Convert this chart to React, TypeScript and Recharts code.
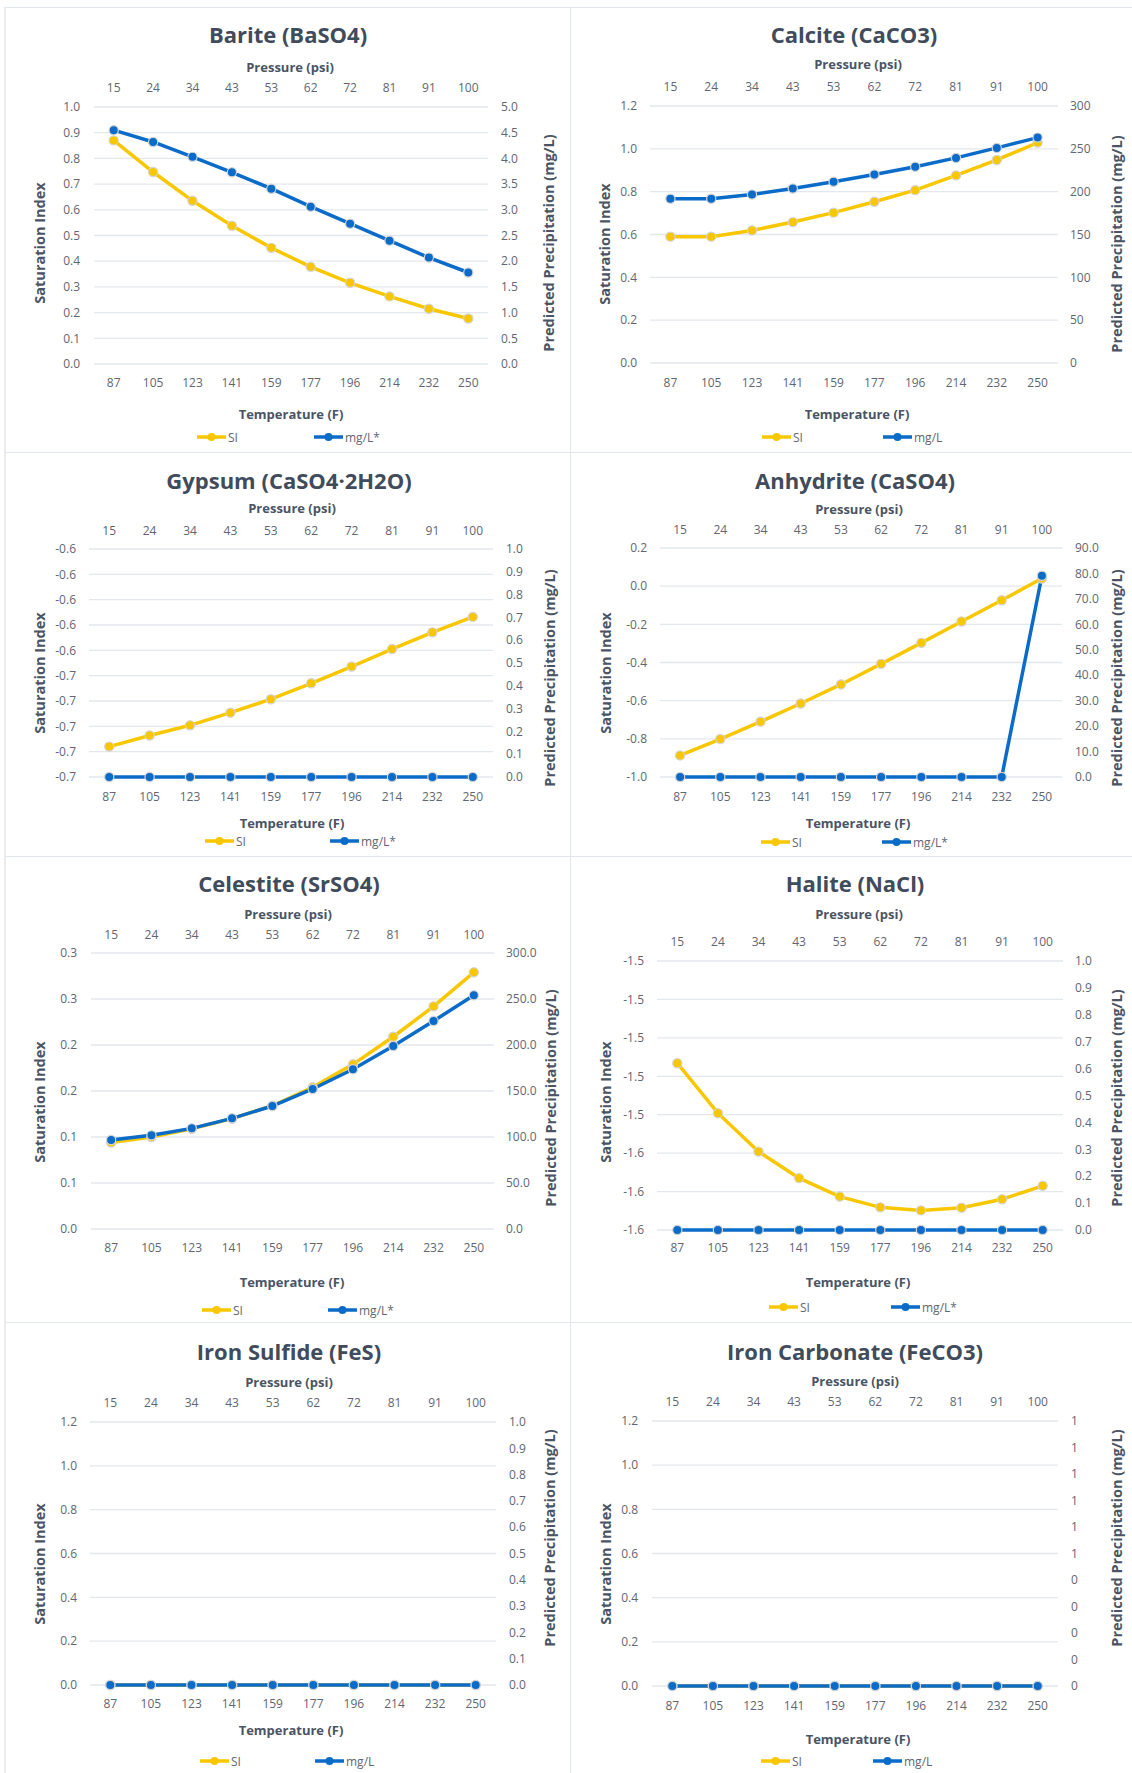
import React from "react";
import { LineChart, Line, XAxis, YAxis, CartesianGrid } from "recharts";

const temperatures = [87, 105, 123, 141, 159, 177, 196, 214, 232, 250];
const pressures = [15, 24, 34, 43, 53, 62, 72, 81, 91, 100];

const bariteSI = [0.87, 0.747, 0.635, 0.538, 0.452, 0.378, 0.316, 0.263, 0.215, 0.177];
const bariteMg = [4.55, 4.32, 4.03, 3.73, 3.41, 3.06, 2.73, 2.4, 2.07, 1.78];

const calciteSI = [0.59, 0.59, 0.619, 0.658, 0.702, 0.753, 0.807, 0.876, 0.948, 1.029];
const calciteMg = [191.7, 191.7, 196.7, 203.7, 211.5, 220.0, 229.0, 239.4, 251.1, 263.1];

const gypsumSI = [-0.678, -0.6736, -0.6696, -0.6646, -0.6593, -0.653, -0.6464, -0.6395, -0.6329, -0.6268];
const gypsumMg = [0, 0, 0, 0, 0, 0, 0, 0, 0, 0];

const anhydriteSI = [-0.887, -0.801, -0.71, -0.615, -0.515, -0.407, -0.297, -0.185, -0.074, 0.04];
const anhydriteMg = [0, 0, 0, 0, 0, 0, 0, 0, 0, 79.1];

const celestiteSI = [0.094, 0.1, 0.109, 0.12, 0.134, 0.154, 0.179, 0.209, 0.242, 0.279];
const celestiteMg = [96.7, 101.8, 109.4, 120.3, 133.7, 152.2, 173.6, 198.9, 226.1, 254.0];

const haliteSI = [-1.5266, -1.5396, -1.5496, -1.5565, -1.5613, -1.5641, -1.5649, -1.5642, -1.562, -1.5585];
const haliteMg = [0, 0, 0, 0, 0, 0, 0, 0, 0, 0];

const ironSulfideSI = [0, 0, 0, 0, 0, 0, 0, 0, 0, 0];
const ironSulfideMg = [0, 0, 0, 0, 0, 0, 0, 0, 0, 0];

const ironCarbonateSI = [0, 0, 0, 0, 0, 0, 0, 0, 0, 0];
const ironCarbonateMg = [0, 0, 0, 0, 0, 0, 0, 0, 0, 0];

// axis tick values
const bariteSiTicks = [0, 0.1, 0.2, 0.3, 0.4, 0.5, 0.6, 0.7, 0.8, 0.9, 1.0];
const bariteMgTicks = [0, 0.5, 1, 1.5, 2, 2.5, 3, 3.5, 4, 4.5, 5];
const calciteSiTicks = [0, 0.2, 0.4, 0.6, 0.8, 1.0, 1.2];
const calciteMgTicks = [0, 50, 100, 150, 200, 250, 300];
const gypsumSiTicks = [-0.69, -0.68, -0.67, -0.66, -0.65, -0.64, -0.63, -0.62, -0.61, -0.6];
const gypsumMgTicks = [0, 0.1, 0.2, 0.3, 0.4, 0.5, 0.6, 0.7, 0.8, 0.9, 1.0];
const anhydriteSiTicks = [-1.0, -0.8, -0.6, -0.4, -0.2, 0, 0.2];
const anhydriteMgTicks = [0, 10, 20, 30, 40, 50, 60, 70, 80, 90];
const celestiteSiTicks = [0, 0.05, 0.1, 0.15, 0.2, 0.25, 0.3];
const celestiteMgTicks = [0, 50, 100, 150, 200, 250, 300];
const haliteSiTicks = [-1.57, -1.56, -1.55, -1.54, -1.53, -1.52, -1.51, -1.5];
const haliteMgTicks = [0, 0.1, 0.2, 0.3, 0.4, 0.5, 0.6, 0.7, 0.8, 0.9, 1.0];
const ironSiTicks = [0, 0.2, 0.4, 0.6, 0.8, 1.0, 1.2];
const ironMgTicks = [0, 0.1, 0.2, 0.3, 0.4, 0.5, 0.6, 0.7, 0.8, 0.9, 1.0];

const YELLOW = "#F8C700";
const BLUE = "#0B6BC9";
const FONT = "'Open Sans', 'Noto Sans', sans-serif";
const TICK_FS = 12;

// excel style rounding (half away from zero)
const roundAway = (v: number, d: number) => {
  const p = Math.pow(10, d);
  return (Math.sign(v) * Math.round(Math.abs(v) * p + 1e-9)) / p;
};
const fmt1 = (v: number) => roundAway(v, 1).toFixed(1);
const fmt0 = (v: number) => roundAway(v, 0).toFixed(0);

// box: x,y,w,h  plot: left,right,top,bottom  ticks: leftLabelRight,rightLabelLeft,topLabelY,bottomLabelY
const panels = [
  {
    title: "Barite (BaSO4)", si: bariteSI, mg: bariteMg, siTicks: bariteSiTicks, mgTicks: bariteMgTicks,
    siFmt: fmt1, mgFmt: fmt1, mgName: "mg/L*",
    box: [5, 7, 565, 445], plot: [94, 488, 107, 364], ticks: [80, 501, 88, 383],
    titlePos: [288, 34], pres: [290, 67], temp: [291, 414], leftT: [40, 243], rightT: [549, 243],
    legend: [437, 197, 314],
  },
  {
    title: "Calcite (CaCO3)", si: calciteSI, mg: calciteMg, siTicks: calciteSiTicks, mgTicks: calciteMgTicks,
    siFmt: fmt1, mgFmt: fmt0, mgName: "mg/L",
    box: [570, 7, 562, 445], plot: [650, 1058, 106, 363], ticks: [637, 1070, 87, 383],
    titlePos: [854, 34], pres: [858, 64], temp: [857, 414], leftT: [605, 244], rightT: [1117, 244],
    legend: [437, 762, 883],
  },
  {
    title: "Gypsum (CaSO4·2H2O)", si: gypsumSI, mg: gypsumMg, siTicks: gypsumSiTicks, mgTicks: gypsumMgTicks,
    siFmt: fmt1, mgFmt: fmt1, mgName: "mg/L*",
    box: [5, 452, 565, 404], plot: [89, 493, 549, 777], ticks: [76, 506, 531, 797],
    titlePos: [289, 480], pres: [292, 508], temp: [292, 823], leftT: [40, 673], rightT: [550, 678],
    legend: [841, 205, 330],
  },
  {
    title: "Anhydrite (CaSO4)", si: anhydriteSI, mg: anhydriteMg, siTicks: anhydriteSiTicks, mgTicks: anhydriteMgTicks,
    siFmt: fmt1, mgFmt: fmt1, mgName: "mg/L*",
    box: [570, 452, 562, 404], plot: [660, 1062, 548, 777], ticks: [647, 1075, 530, 797],
    titlePos: [855, 480], pres: [859, 509], temp: [858, 823], leftT: [606, 673], rightT: [1117, 678],
    legend: [842, 761, 882],
  },
  {
    title: "Celestite (SrSO4)", si: celestiteSI, mg: celestiteMg, siTicks: celestiteSiTicks, mgTicks: celestiteMgTicks,
    siFmt: fmt1, mgFmt: fmt1, mgName: "mg/L*",
    box: [5, 856, 565, 466], plot: [91, 494, 953, 1229], ticks: [77, 506, 935, 1248],
    titlePos: [289, 883], pres: [288, 914], temp: [292, 1282], leftT: [40, 1102], rightT: [551, 1098],
    legend: [1310, 202, 328],
  },
  {
    title: "Halite (NaCl)", si: haliteSI, mg: haliteMg, siTicks: haliteSiTicks, mgTicks: haliteMgTicks,
    siFmt: fmt1, mgFmt: fmt1, mgName: "mg/L*",
    box: [570, 856, 562, 466], plot: [657, 1063, 961, 1230], ticks: [644, 1075, 942, 1248],
    titlePos: [855, 883], pres: [859, 914], temp: [858, 1282], leftT: [606, 1102], rightT: [1117, 1098],
    legend: [1307, 769, 891],
  },
  {
    title: "Iron Sulfide (FeS)", si: ironSulfideSI, mg: ironSulfideMg, siTicks: ironSiTicks, mgTicks: ironMgTicks,
    siFmt: fmt1, mgFmt: fmt1, mgName: "mg/L",
    box: [5, 1322, 565, 451], plot: [90, 496, 1422, 1685], ticks: [77, 509, 1403, 1704],
    titlePos: [289, 1351], pres: [289, 1382], temp: [291, 1730], leftT: [40, 1564], rightT: [550, 1538],
    legend: [1761, 200, 315],
  },
  {
    title: "Iron Carbonate (FeCO3)", si: ironCarbonateSI, mg: ironCarbonateMg, siTicks: ironSiTicks, mgTicks: ironMgTicks,
    siFmt: fmt1, mgFmt: fmt0, mgName: "mg/L",
    box: [570, 1322, 562, 451], plot: [652, 1058, 1421, 1686], ticks: [638, 1071, 1402, 1706],
    titlePos: [855, 1351], pres: [855, 1381], temp: [858, 1739], leftT: [606, 1564], rightT: [1117, 1538],
    legend: [1761, 761, 873],
  },
];

function Txt({ x, y, size, bold, color, rotate, children }: any) {
  return (
    <div
      style={{
        position: "absolute",
        left: x,
        top: y,
        transform: `translate(-50%, -50%)${rotate ? " rotate(-90deg)" : ""}`,
        fontFamily: FONT,
        fontSize: size,
        fontWeight: bold ? 700 : 400,
        color,
        whiteSpace: "nowrap",
        lineHeight: 1,
      }}
    >
      {children}
    </div>
  );
}

function LegendItem({ x, y, color, label }: any) {
  return (
    <div style={{ position: "absolute", left: x, top: y - 9, height: 18, display: "flex", alignItems: "center" }}>
      <svg width={29} height={18}>
        <line x1={0} y1={9} x2={29} y2={9} stroke={color} strokeWidth={3.5} />
        <circle cx={14.5} cy={9} r={4} fill={color} />
      </svg>
      <span style={{ fontFamily: FONT, fontSize: TICK_FS, color: "#5f6672", marginLeft: 2 }}>{label}</span>
    </div>
  );
}

function MineralChart({ p }: any) {
  const data = temperatures.map((t, i) => ({ temp: t, pres: pressures[i], si: p.si[i], mg: p.mg[i] }));
  const [bx, by, bw, bh] = p.box;
  const [l, r, t, b] = p.plot;
  const [leftRight, rightLeft, topY, botY] = p.ticks;
  const pad = (r - l) / 20;
  const tick = { fill: "#5f6672", fontSize: TICK_FS, fontFamily: FONT };
  const half = 0.36 * TICK_FS;
  const dotStyle = (c: string) => ({ r: 4.6, fill: c, stroke: "#d4d4d4", strokeWidth: 1.2 });

  return (
    <>
      <div style={{ position: "absolute", left: bx, top: by }}>
        <LineChart width={bw} height={bh} data={data} margin={{ top: 0, right: 0, bottom: 0, left: 0 }}>
          <CartesianGrid xAxisId="bottom" yAxisId="si" vertical={false} stroke="#e3e7ee" strokeWidth={1.3} />
          <XAxis
            xAxisId="bottom" dataKey="temp" orientation="bottom" height={by + bh - b}
            axisLine={false} tickLine={false} tickSize={0} tickMargin={botY - half - b}
            padding={{ left: pad, right: pad }} interval={0} tick={tick}
          />
          <XAxis
            xAxisId="top" dataKey="pres" orientation="top" height={t - by}
            axisLine={false} tickLine={false} tickSize={0} tickMargin={t - (topY + half)}
            padding={{ left: pad, right: pad }} interval={0} tick={tick}
          />
          <YAxis
            yAxisId="si" orientation="left" width={l - bx} type="number"
            domain={[p.siTicks[0], p.siTicks[p.siTicks.length - 1]]} ticks={p.siTicks}
            tickFormatter={p.siFmt} axisLine={false} tickLine={false} tickSize={0}
            tickMargin={l - leftRight} interval={0} tick={tick}
          />
          <YAxis
            yAxisId="mg" orientation="right" width={bx + bw - r} type="number"
            domain={[p.mgTicks[0], p.mgTicks[p.mgTicks.length - 1]]} ticks={p.mgTicks}
            tickFormatter={p.mgFmt} axisLine={false} tickLine={false} tickSize={0}
            tickMargin={rightLeft - r} interval={0} tick={tick}
          />
          <Line
            xAxisId="bottom" yAxisId="si" dataKey="si" stroke={YELLOW} strokeWidth={3.5}
            dot={dotStyle(YELLOW)} activeDot={false} isAnimationActive={false}
          />
          <Line
            xAxisId="top" yAxisId="mg" dataKey="mg" stroke={BLUE} strokeWidth={3.5}
            dot={dotStyle(BLUE)} activeDot={false} isAnimationActive={false}
          />
        </LineChart>
      </div>
      <Txt x={p.titlePos[0]} y={p.titlePos[1]} size={22} bold color="#404b5b">{p.title}</Txt>
      <Txt x={p.pres[0]} y={p.pres[1]} size={13} bold color="#4a5464">Pressure (psi)</Txt>
      <Txt x={p.temp[0]} y={p.temp[1]} size={13} bold color="#4a5464">Temperature (F)</Txt>
      <Txt x={p.leftT[0]} y={p.leftT[1]} size={14.5} bold rotate color="#4a5464">Saturation Index</Txt>
      <Txt x={p.rightT[0]} y={p.rightT[1]} size={14.5} bold rotate color="#4a5464">Predicted Precipitation (mg/L)</Txt>
      <LegendItem x={p.legend[1]} y={p.legend[0]} color={YELLOW} label="SI" />
      <LegendItem x={p.legend[2]} y={p.legend[0]} color={BLUE} label={p.mgName} />
    </>
  );
}

export default function App() {
  const border = "#e2e6ed";
  return (
    <div style={{ position: "absolute", left: 0, top: 0, width: 1132, height: 1773, background: "#fff", overflow: "hidden" }}>
      {[7, 452, 856, 1322].map((y) => (
        <div key={y} style={{ position: "absolute", left: 5, top: y, width: 1127, height: 1, background: border }} />
      ))}
      <div style={{ position: "absolute", left: 4, top: 7, width: 2, height: 1766, background: "#ebebeb" }} />
      <div style={{ position: "absolute", left: 570, top: 7, width: 1, height: 1766, background: border }} />
      {panels.map((p) => (
        <MineralChart key={p.title} p={p} />
      ))}
    </div>
  );
}
